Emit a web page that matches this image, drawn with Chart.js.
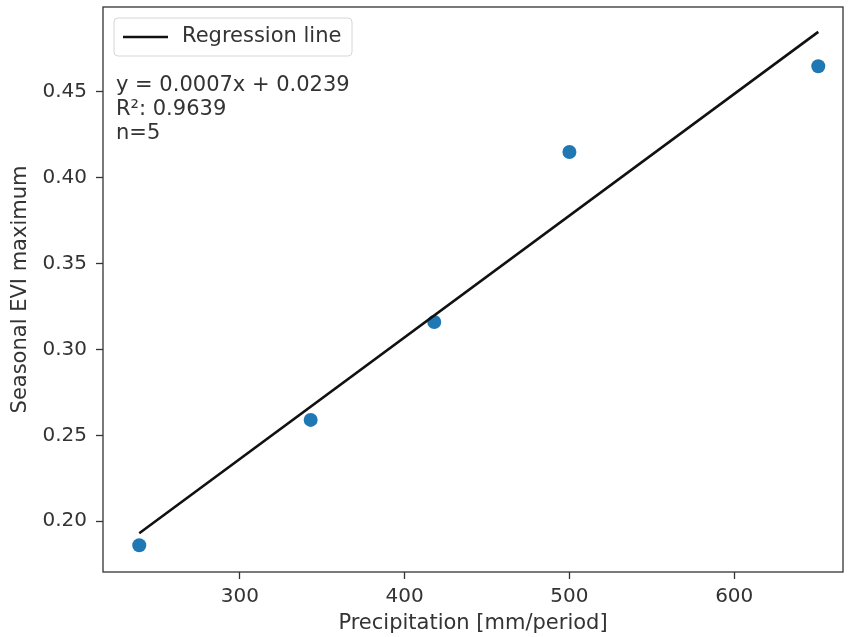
<!DOCTYPE html>
<html>
<head>
<meta charset="utf-8">
<script src="https://cdn.jsdelivr.net/npm/chart.js@4"></script>
<style>
  html, body { margin: 0; padding: 0; background: #fff; }
  #wrap { width: 850px; height: 637px; }
</style>
</head>
<body>
<div id="wrap"><canvas id="evChart" width="850" height="637"></canvas></div>
<script>
// values
const precipitation = [239, 343, 418, 500, 651];
const eviMax = [0.186, 0.259, 0.316, 0.415, 0.465];
const regressionX = [239, 651];
const regressionY = [0.193, 0.485];
const xTickValues = [300, 400, 500, 600];
const yTickValues = [0.20, 0.25, 0.30, 0.35, 0.40, 0.45];
const legendLabel = 'Regression line';
const statsLines = ['y = 0.0007x + 0.0239', 'R²: 0.9639', 'n=5'];
const xTitle = 'Precipitation [mm/period]';
const yTitle = 'Seasonal EVI maximum';

const FONT = "'DejaVu Sans', sans-serif";
const textColor = '#333';

const framePlugin = {
    id: 'frameAndNotes',
    afterDraw(chart) {
        const ctx = chart.ctx;
        const a = chart.chartArea;
        ctx.save();

        // axes box
        ctx.strokeStyle = '#333';
        ctx.lineWidth = 1.3;
        ctx.strokeRect(a.left, a.top, a.right - a.left, a.bottom - a.top);

        // legend box
        const bx = a.left + 11, by = a.top + 11, bw = 238, bh = 38, r = 4;
        ctx.beginPath();
        ctx.moveTo(bx + r, by);
        ctx.arcTo(bx + bw, by, bx + bw, by + bh, r);
        ctx.arcTo(bx + bw, by + bh, bx, by + bh, r);
        ctx.arcTo(bx, by + bh, bx, by, r);
        ctx.arcTo(bx, by, bx + bw, by, r);
        ctx.closePath();
        ctx.fillStyle = 'rgba(255,255,255,0.8)';
        ctx.fill();
        ctx.strokeStyle = '#d6d6d6';
        ctx.lineWidth = 1;
        ctx.stroke();

        const ly = by + bh / 2;
        ctx.strokeStyle = '#111';
        ctx.lineWidth = 2.6;
        ctx.beginPath();
        ctx.moveTo(bx + 9, ly);
        ctx.lineTo(bx + 54, ly);
        ctx.stroke();

        ctx.font = '21px ' + FONT;
        ctx.fillStyle = textColor;
        ctx.textBaseline = 'middle';
        ctx.textAlign = 'left';
        ctx.fillText(legendLabel, bx + 68, ly);

        // regression stats
        statsLines.forEach((line, i) => {
            ctx.fillText(line, a.left + 13, a.top + 79 + i * 24);
        });
        ctx.restore();
    }
};

new Chart(document.getElementById('evChart'), {
    type: 'scatter',
    data: {
        datasets: [
            {
                type: 'line',
                label: legendLabel,
                data: regressionX.map((x, i) => ({ x: x, y: regressionY[i] })),
                borderColor: '#111',
                borderWidth: 2.6,
                pointRadius: 0,
                fill: false
            },
            {
                label: 'Observations',
                data: precipitation.map((x, i) => ({ x: x, y: eviMax[i] })),
                backgroundColor: '#1f77b4',
                borderColor: '#1f77b4',
                pointRadius: 7,
                pointBorderWidth: 0
            }
        ]
    },
    options: {
        responsive: false,
        animation: false,
        layout: { padding: { top: 4, right: 2, left: 0, bottom: 0 } },
        plugins: {
            legend: { display: false },
            tooltip: { enabled: false }
        },
        scales: {
            x: {
                type: 'linear',
                min: 217,
                max: 666,
                afterFit: scale => {
                    scale.height = 65;
                    scale.paddingLeft = 0;
                    scale.paddingRight = 0;
                },
                afterBuildTicks: scale => { scale.ticks = xTickValues.map(v => ({ value: v })); },
                grid: { drawOnChartArea: false, tickLength: 7, color: '#333', tickWidth: 1.3 },
                border: { display: false },
                ticks: { color: textColor, font: { family: FONT, size: 20 }, padding: 6, maxRotation: 0 },
                title: { display: true, text: xTitle, color: textColor, font: { family: FONT, size: 21 }, padding: { top: 0, bottom: 1 } }
            },
            y: {
                type: 'linear',
                min: 0.1704,
                max: 0.4995,
                afterFit: scale => {
                    scale.width = 103;
                    scale.paddingTop = 0;
                    scale.paddingBottom = 0;
                },
                afterBuildTicks: scale => { scale.ticks = yTickValues.map(v => ({ value: v })); },
                grid: { drawOnChartArea: false, tickLength: 7, color: '#333', tickWidth: 1.3 },
                border: { display: false },
                ticks: {
                    color: textColor,
                    font: { family: FONT, size: 20 },
                    padding: 9,
                    callback: v => v.toFixed(2)
                },
                title: { display: true, text: yTitle, color: textColor, font: { family: FONT, size: 21 }, padding: { top: 8, bottom: 0 } }
            }
        }
    },
    plugins: [framePlugin]
});
</script>
</body>
</html>
